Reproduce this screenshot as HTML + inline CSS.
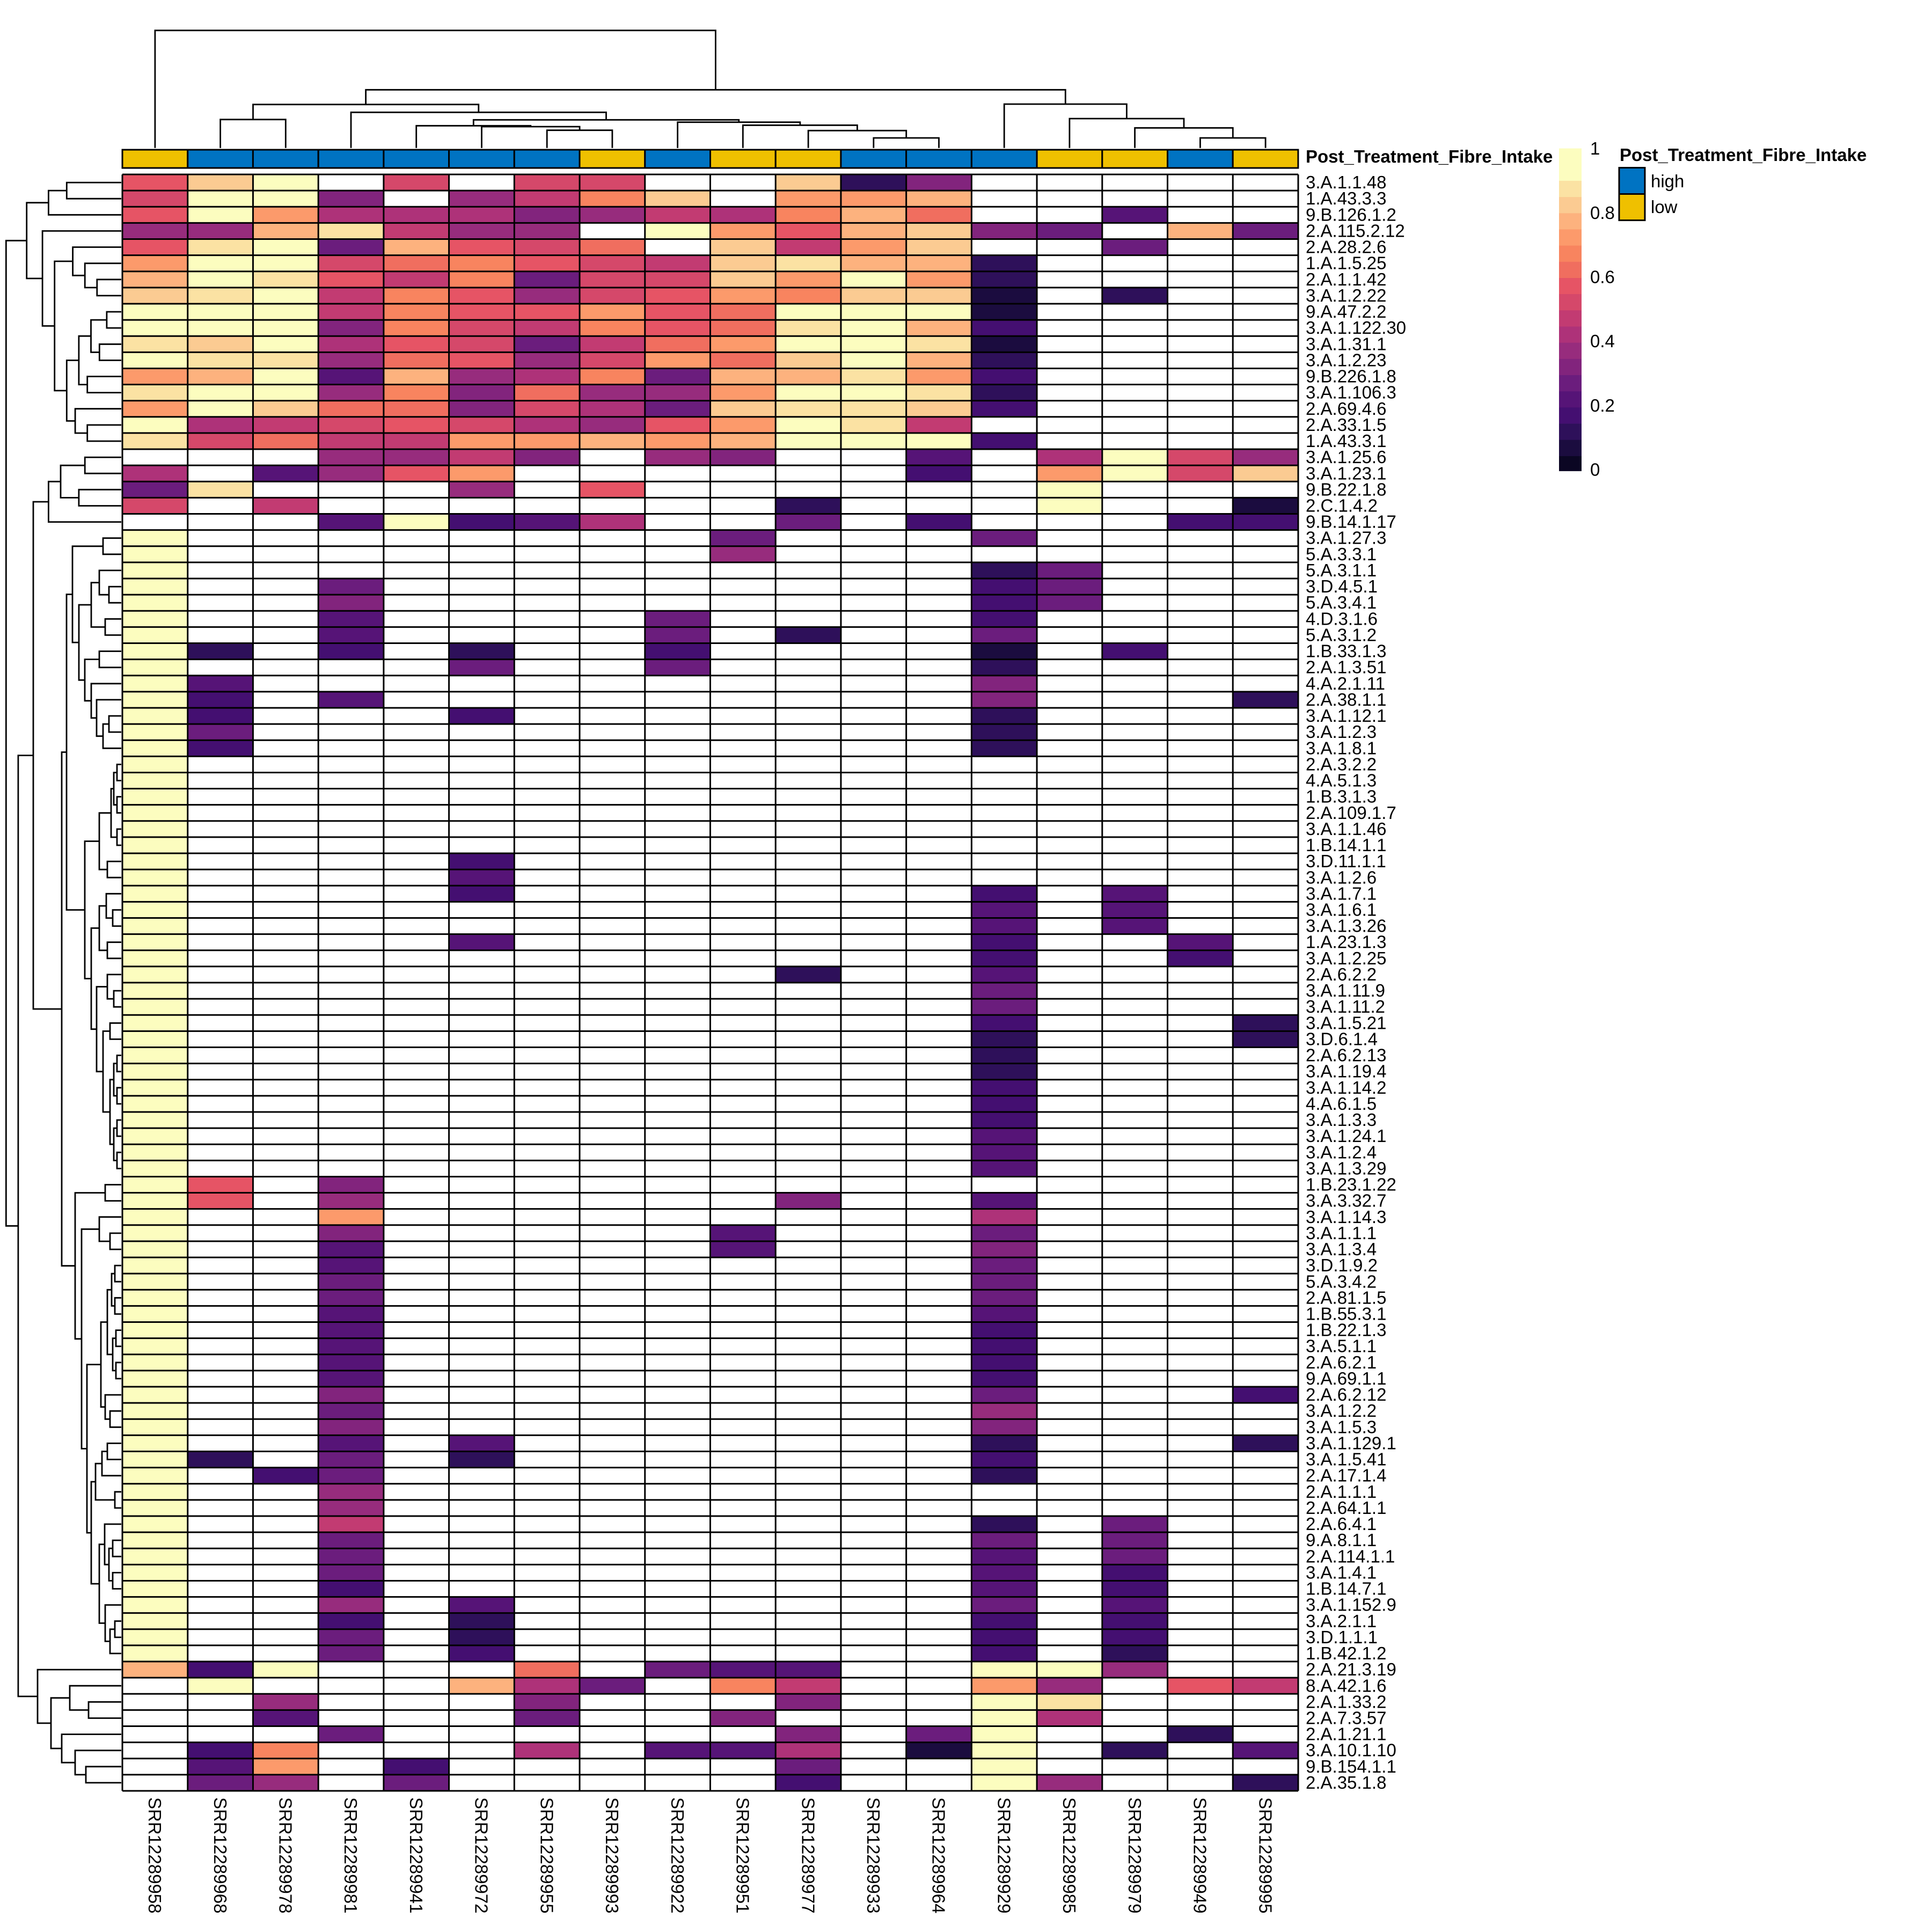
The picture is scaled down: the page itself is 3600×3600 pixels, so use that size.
<!DOCTYPE html>
<html>
<head>
<meta charset="utf-8">
<style>
html,body{margin:0;padding:0;background:#fff;}
svg{display:block;}
text{font-family:"Liberation Sans",Arial,sans-serif;fill:#000;}
.k0{fill:#0B0623}.k1{fill:#1B0C3F}.k2{fill:#2E105A}.k3{fill:#440F71}.k4{fill:#561477}.k5{fill:#6B1D7D}.k6{fill:#82247D}.k7{fill:#972C7D}.k8{fill:#AE3279}.k9{fill:#C23B72}.k10{fill:#D5486A}.k11{fill:#E65465}.k12{fill:#F06E5F}.k13{fill:#F8845F}.k14{fill:#FC9A6B}.k15{fill:#FDB27E}.k16{fill:#FBCB92}.k17{fill:#FBE2A3}.k19{fill:#FCFDBF}
</style>
</head>
<body>
<svg xmlns="http://www.w3.org/2000/svg" width="3600" height="3600" viewBox="0 0 3600 3600">
<rect x="0" y="0" width="3600" height="3600" fill="#fff"/>

<!-- top dendrogram -->
<path fill="none" stroke="#000" stroke-width="2.8" d="M1019.2 275.7V242.7H1140.9V275.7 M897.5 275.7V236H1080.1V242.7 M775.7 275.7V234.3H988.8V236 M1627.8 275.7V257H1749.5V275.7 M1506.1 275.7V243.3H1688.7V257 M1384.3 275.7V233.3H1597.4V243.3 M1262.6 275.7V227.7H1490.9V233.3 M882.3 234.3V223.3H1376.8V227.7 M654 275.7V209.3H1129.5V223.3 M410.6 275.7V222.7H532.3V275.7 M471.5 222.7V194.7H891.8V209.3 M2236.4 275.7V257H2358.1V275.7 M2114.6 275.7V238.3H2297.3V257 M1992.9 275.7V221H2206V238.3 M1871.2 275.7V194H2099.4V221 M681.6 194.7V167.3H1985.3V194 M288.9 275.7V56.7H1333.4V167.3"/>

<!-- annotation bar -->
<g stroke="#000" stroke-width="3">
<rect x="228" y="279" width="121.72" height="34" fill="#EFC000"/>
<rect x="349.7" y="279" width="121.72" height="34" fill="#0073C2"/>
<rect x="471.4" y="279" width="121.72" height="34" fill="#0073C2"/>
<rect x="593.2" y="279" width="121.72" height="34" fill="#0073C2"/>
<rect x="714.9" y="279" width="121.72" height="34" fill="#0073C2"/>
<rect x="836.6" y="279" width="121.72" height="34" fill="#0073C2"/>
<rect x="958.3" y="279" width="121.72" height="34" fill="#0073C2"/>
<rect x="1080" y="279" width="121.72" height="34" fill="#EFC000"/>
<rect x="1201.8" y="279" width="121.72" height="34" fill="#0073C2"/>
<rect x="1323.5" y="279" width="121.72" height="34" fill="#EFC000"/>
<rect x="1445.2" y="279" width="121.72" height="34" fill="#EFC000"/>
<rect x="1566.9" y="279" width="121.72" height="34" fill="#0073C2"/>
<rect x="1688.6" y="279" width="121.72" height="34" fill="#0073C2"/>
<rect x="1810.4" y="279" width="121.72" height="34" fill="#0073C2"/>
<rect x="1932.1" y="279" width="121.72" height="34" fill="#EFC000"/>
<rect x="2053.8" y="279" width="121.72" height="34" fill="#EFC000"/>
<rect x="2175.5" y="279" width="121.72" height="34" fill="#0073C2"/>
<rect x="2297.2" y="279" width="121.72" height="34" fill="#EFC000"/>
</g>
<text x="2433" y="303" font-size="33" font-weight="bold">Post_Treatment_Fibre_Intake</text>

<!-- heatmap cells -->
<g>
<g transform="translate(0,325)"><rect x="228" width="121.8" height="30.2" class="k11"/><rect x="349.7" width="121.8" height="30.2" class="k16"/><rect x="471.4" width="121.8" height="30.2" class="k19"/><rect x="714.9" width="121.8" height="30.2" class="k10"/><rect x="958.3" width="121.8" height="30.2" class="k10"/><rect x="1080" width="121.8" height="30.2" class="k10"/><rect x="1445.2" width="121.8" height="30.2" class="k16"/><rect x="1566.9" width="121.8" height="30.2" class="k2"/><rect x="1688.6" width="121.8" height="30.2" class="k6"/></g>
<g transform="translate(0,355.12)"><rect x="228" width="121.8" height="30.2" class="k10"/><rect x="349.7" width="121.8" height="30.2" class="k19"/><rect x="471.4" width="121.8" height="30.2" class="k19"/><rect x="593.2" width="121.8" height="30.2" class="k6"/><rect x="836.6" width="121.8" height="30.2" class="k7"/><rect x="958.3" width="121.8" height="30.2" class="k9"/><rect x="1080" width="121.8" height="30.2" class="k13"/><rect x="1201.8" width="121.8" height="30.2" class="k16"/><rect x="1445.2" width="121.8" height="30.2" class="k14"/><rect x="1566.9" width="121.8" height="30.2" class="k14"/><rect x="1688.6" width="121.8" height="30.2" class="k15"/></g>
<g transform="translate(0,385.24)"><rect x="228" width="121.8" height="30.2" class="k11"/><rect x="349.7" width="121.8" height="30.2" class="k19"/><rect x="471.4" width="121.8" height="30.2" class="k14"/><rect x="593.2" width="121.8" height="30.2" class="k8"/><rect x="714.9" width="121.8" height="30.2" class="k8"/><rect x="836.6" width="121.8" height="30.2" class="k8"/><rect x="958.3" width="121.8" height="30.2" class="k6"/><rect x="1080" width="121.8" height="30.2" class="k7"/><rect x="1201.8" width="121.8" height="30.2" class="k9"/><rect x="1323.5" width="121.8" height="30.2" class="k8"/><rect x="1445.2" width="121.8" height="30.2" class="k13"/><rect x="1566.9" width="121.8" height="30.2" class="k15"/><rect x="1688.6" width="121.8" height="30.2" class="k12"/><rect x="2053.8" width="121.8" height="30.2" class="k4"/></g>
<g transform="translate(0,415.36)"><rect x="228" width="121.8" height="30.2" class="k7"/><rect x="349.7" width="121.8" height="30.2" class="k7"/><rect x="471.4" width="121.8" height="30.2" class="k15"/><rect x="593.2" width="121.8" height="30.2" class="k17"/><rect x="714.9" width="121.8" height="30.2" class="k9"/><rect x="836.6" width="121.8" height="30.2" class="k7"/><rect x="958.3" width="121.8" height="30.2" class="k7"/><rect x="1201.8" width="121.8" height="30.2" class="k19"/><rect x="1323.5" width="121.8" height="30.2" class="k14"/><rect x="1445.2" width="121.8" height="30.2" class="k11"/><rect x="1566.9" width="121.8" height="30.2" class="k15"/><rect x="1688.6" width="121.8" height="30.2" class="k16"/><rect x="1810.4" width="121.8" height="30.2" class="k6"/><rect x="1932.1" width="121.8" height="30.2" class="k5"/><rect x="2175.5" width="121.8" height="30.2" class="k15"/><rect x="2297.2" width="121.8" height="30.2" class="k5"/></g>
<g transform="translate(0,445.48)"><rect x="228" width="121.8" height="30.2" class="k11"/><rect x="349.7" width="121.8" height="30.2" class="k17"/><rect x="471.4" width="121.8" height="30.2" class="k19"/><rect x="593.2" width="121.8" height="30.2" class="k5"/><rect x="714.9" width="121.8" height="30.2" class="k15"/><rect x="836.6" width="121.8" height="30.2" class="k11"/><rect x="958.3" width="121.8" height="30.2" class="k10"/><rect x="1080" width="121.8" height="30.2" class="k12"/><rect x="1323.5" width="121.8" height="30.2" class="k16"/><rect x="1445.2" width="121.8" height="30.2" class="k9"/><rect x="1566.9" width="121.8" height="30.2" class="k14"/><rect x="1688.6" width="121.8" height="30.2" class="k16"/><rect x="2053.8" width="121.8" height="30.2" class="k5"/></g>
<g transform="translate(0,475.6)"><rect x="228" width="121.8" height="30.2" class="k14"/><rect x="349.7" width="121.8" height="30.2" class="k19"/><rect x="471.4" width="121.8" height="30.2" class="k19"/><rect x="593.2" width="121.8" height="30.2" class="k10"/><rect x="714.9" width="121.8" height="30.2" class="k12"/><rect x="836.6" width="121.8" height="30.2" class="k13"/><rect x="958.3" width="121.8" height="30.2" class="k11"/><rect x="1080" width="121.8" height="30.2" class="k10"/><rect x="1201.8" width="121.8" height="30.2" class="k9"/><rect x="1323.5" width="121.8" height="30.2" class="k16"/><rect x="1445.2" width="121.8" height="30.2" class="k17"/><rect x="1566.9" width="121.8" height="30.2" class="k15"/><rect x="1688.6" width="121.8" height="30.2" class="k15"/><rect x="1810.4" width="121.8" height="30.2" class="k2"/></g>
<g transform="translate(0,505.72)"><rect x="228" width="121.8" height="30.2" class="k15"/><rect x="349.7" width="121.8" height="30.2" class="k19"/><rect x="471.4" width="121.8" height="30.2" class="k17"/><rect x="593.2" width="121.8" height="30.2" class="k11"/><rect x="714.9" width="121.8" height="30.2" class="k9"/><rect x="836.6" width="121.8" height="30.2" class="k13"/><rect x="958.3" width="121.8" height="30.2" class="k5"/><rect x="1080" width="121.8" height="30.2" class="k10"/><rect x="1201.8" width="121.8" height="30.2" class="k10"/><rect x="1323.5" width="121.8" height="30.2" class="k16"/><rect x="1445.2" width="121.8" height="30.2" class="k14"/><rect x="1566.9" width="121.8" height="30.2" class="k19"/><rect x="1688.6" width="121.8" height="30.2" class="k14"/><rect x="1810.4" width="121.8" height="30.2" class="k2"/></g>
<g transform="translate(0,535.84)"><rect x="228" width="121.8" height="30.2" class="k16"/><rect x="349.7" width="121.8" height="30.2" class="k17"/><rect x="471.4" width="121.8" height="30.2" class="k19"/><rect x="593.2" width="121.8" height="30.2" class="k9"/><rect x="714.9" width="121.8" height="30.2" class="k13"/><rect x="836.6" width="121.8" height="30.2" class="k11"/><rect x="958.3" width="121.8" height="30.2" class="k7"/><rect x="1080" width="121.8" height="30.2" class="k10"/><rect x="1201.8" width="121.8" height="30.2" class="k11"/><rect x="1323.5" width="121.8" height="30.2" class="k14"/><rect x="1445.2" width="121.8" height="30.2" class="k13"/><rect x="1566.9" width="121.8" height="30.2" class="k16"/><rect x="1688.6" width="121.8" height="30.2" class="k16"/><rect x="1810.4" width="121.8" height="30.2" class="k1"/><rect x="2053.8" width="121.8" height="30.2" class="k2"/></g>
<g transform="translate(0,565.96)"><rect x="228" width="121.8" height="30.2" class="k19"/><rect x="349.7" width="121.8" height="30.2" class="k19"/><rect x="471.4" width="121.8" height="30.2" class="k19"/><rect x="593.2" width="121.8" height="30.2" class="k9"/><rect x="714.9" width="121.8" height="30.2" class="k13"/><rect x="836.6" width="121.8" height="30.2" class="k11"/><rect x="958.3" width="121.8" height="30.2" class="k11"/><rect x="1080" width="121.8" height="30.2" class="k14"/><rect x="1201.8" width="121.8" height="30.2" class="k11"/><rect x="1323.5" width="121.8" height="30.2" class="k12"/><rect x="1445.2" width="121.8" height="30.2" class="k19"/><rect x="1566.9" width="121.8" height="30.2" class="k19"/><rect x="1688.6" width="121.8" height="30.2" class="k19"/><rect x="1810.4" width="121.8" height="30.2" class="k1"/></g>
<g transform="translate(0,596.08)"><rect x="228" width="121.8" height="30.2" class="k19"/><rect x="349.7" width="121.8" height="30.2" class="k19"/><rect x="471.4" width="121.8" height="30.2" class="k19"/><rect x="593.2" width="121.8" height="30.2" class="k6"/><rect x="714.9" width="121.8" height="30.2" class="k13"/><rect x="836.6" width="121.8" height="30.2" class="k10"/><rect x="958.3" width="121.8" height="30.2" class="k9"/><rect x="1080" width="121.8" height="30.2" class="k13"/><rect x="1201.8" width="121.8" height="30.2" class="k11"/><rect x="1323.5" width="121.8" height="30.2" class="k12"/><rect x="1445.2" width="121.8" height="30.2" class="k17"/><rect x="1566.9" width="121.8" height="30.2" class="k19"/><rect x="1688.6" width="121.8" height="30.2" class="k15"/><rect x="1810.4" width="121.8" height="30.2" class="k3"/></g>
<g transform="translate(0,626.2)"><rect x="228" width="121.8" height="30.2" class="k17"/><rect x="349.7" width="121.8" height="30.2" class="k16"/><rect x="471.4" width="121.8" height="30.2" class="k19"/><rect x="593.2" width="121.8" height="30.2" class="k8"/><rect x="714.9" width="121.8" height="30.2" class="k11"/><rect x="836.6" width="121.8" height="30.2" class="k10"/><rect x="958.3" width="121.8" height="30.2" class="k5"/><rect x="1080" width="121.8" height="30.2" class="k9"/><rect x="1201.8" width="121.8" height="30.2" class="k12"/><rect x="1323.5" width="121.8" height="30.2" class="k14"/><rect x="1445.2" width="121.8" height="30.2" class="k19"/><rect x="1566.9" width="121.8" height="30.2" class="k19"/><rect x="1688.6" width="121.8" height="30.2" class="k17"/><rect x="1810.4" width="121.8" height="30.2" class="k1"/></g>
<g transform="translate(0,656.32)"><rect x="228" width="121.8" height="30.2" class="k19"/><rect x="349.7" width="121.8" height="30.2" class="k17"/><rect x="471.4" width="121.8" height="30.2" class="k17"/><rect x="593.2" width="121.8" height="30.2" class="k7"/><rect x="714.9" width="121.8" height="30.2" class="k12"/><rect x="836.6" width="121.8" height="30.2" class="k11"/><rect x="958.3" width="121.8" height="30.2" class="k7"/><rect x="1080" width="121.8" height="30.2" class="k10"/><rect x="1201.8" width="121.8" height="30.2" class="k14"/><rect x="1323.5" width="121.8" height="30.2" class="k12"/><rect x="1445.2" width="121.8" height="30.2" class="k16"/><rect x="1566.9" width="121.8" height="30.2" class="k19"/><rect x="1688.6" width="121.8" height="30.2" class="k15"/><rect x="1810.4" width="121.8" height="30.2" class="k2"/></g>
<g transform="translate(0,686.44)"><rect x="228" width="121.8" height="30.2" class="k14"/><rect x="349.7" width="121.8" height="30.2" class="k15"/><rect x="471.4" width="121.8" height="30.2" class="k19"/><rect x="593.2" width="121.8" height="30.2" class="k4"/><rect x="714.9" width="121.8" height="30.2" class="k15"/><rect x="836.6" width="121.8" height="30.2" class="k7"/><rect x="958.3" width="121.8" height="30.2" class="k8"/><rect x="1080" width="121.8" height="30.2" class="k13"/><rect x="1201.8" width="121.8" height="30.2" class="k5"/><rect x="1323.5" width="121.8" height="30.2" class="k15"/><rect x="1445.2" width="121.8" height="30.2" class="k15"/><rect x="1566.9" width="121.8" height="30.2" class="k17"/><rect x="1688.6" width="121.8" height="30.2" class="k14"/><rect x="1810.4" width="121.8" height="30.2" class="k3"/></g>
<g transform="translate(0,716.56)"><rect x="228" width="121.8" height="30.2" class="k17"/><rect x="349.7" width="121.8" height="30.2" class="k19"/><rect x="471.4" width="121.8" height="30.2" class="k19"/><rect x="593.2" width="121.8" height="30.2" class="k7"/><rect x="714.9" width="121.8" height="30.2" class="k13"/><rect x="836.6" width="121.8" height="30.2" class="k6"/><rect x="958.3" width="121.8" height="30.2" class="k12"/><rect x="1080" width="121.8" height="30.2" class="k7"/><rect x="1201.8" width="121.8" height="30.2" class="k7"/><rect x="1323.5" width="121.8" height="30.2" class="k14"/><rect x="1445.2" width="121.8" height="30.2" class="k19"/><rect x="1566.9" width="121.8" height="30.2" class="k19"/><rect x="1688.6" width="121.8" height="30.2" class="k17"/><rect x="1810.4" width="121.8" height="30.2" class="k2"/></g>
<g transform="translate(0,746.68)"><rect x="228" width="121.8" height="30.2" class="k14"/><rect x="349.7" width="121.8" height="30.2" class="k19"/><rect x="471.4" width="121.8" height="30.2" class="k16"/><rect x="593.2" width="121.8" height="30.2" class="k12"/><rect x="714.9" width="121.8" height="30.2" class="k12"/><rect x="836.6" width="121.8" height="30.2" class="k6"/><rect x="958.3" width="121.8" height="30.2" class="k10"/><rect x="1080" width="121.8" height="30.2" class="k8"/><rect x="1201.8" width="121.8" height="30.2" class="k5"/><rect x="1323.5" width="121.8" height="30.2" class="k16"/><rect x="1445.2" width="121.8" height="30.2" class="k17"/><rect x="1566.9" width="121.8" height="30.2" class="k17"/><rect x="1688.6" width="121.8" height="30.2" class="k16"/><rect x="1810.4" width="121.8" height="30.2" class="k3"/></g>
<g transform="translate(0,776.8)"><rect x="228" width="121.8" height="30.2" class="k19"/><rect x="349.7" width="121.8" height="30.2" class="k8"/><rect x="471.4" width="121.8" height="30.2" class="k9"/><rect x="593.2" width="121.8" height="30.2" class="k10"/><rect x="714.9" width="121.8" height="30.2" class="k11"/><rect x="836.6" width="121.8" height="30.2" class="k10"/><rect x="958.3" width="121.8" height="30.2" class="k8"/><rect x="1080" width="121.8" height="30.2" class="k7"/><rect x="1201.8" width="121.8" height="30.2" class="k11"/><rect x="1323.5" width="121.8" height="30.2" class="k14"/><rect x="1445.2" width="121.8" height="30.2" class="k19"/><rect x="1566.9" width="121.8" height="30.2" class="k17"/><rect x="1688.6" width="121.8" height="30.2" class="k9"/></g>
<g transform="translate(0,806.92)"><rect x="228" width="121.8" height="30.2" class="k17"/><rect x="349.7" width="121.8" height="30.2" class="k10"/><rect x="471.4" width="121.8" height="30.2" class="k12"/><rect x="593.2" width="121.8" height="30.2" class="k9"/><rect x="714.9" width="121.8" height="30.2" class="k9"/><rect x="836.6" width="121.8" height="30.2" class="k14"/><rect x="958.3" width="121.8" height="30.2" class="k14"/><rect x="1080" width="121.8" height="30.2" class="k15"/><rect x="1201.8" width="121.8" height="30.2" class="k14"/><rect x="1323.5" width="121.8" height="30.2" class="k15"/><rect x="1445.2" width="121.8" height="30.2" class="k19"/><rect x="1566.9" width="121.8" height="30.2" class="k19"/><rect x="1688.6" width="121.8" height="30.2" class="k19"/><rect x="1810.4" width="121.8" height="30.2" class="k3"/></g>
<g transform="translate(0,837.04)"><rect x="593.2" width="121.8" height="30.2" class="k7"/><rect x="714.9" width="121.8" height="30.2" class="k7"/><rect x="836.6" width="121.8" height="30.2" class="k9"/><rect x="958.3" width="121.8" height="30.2" class="k6"/><rect x="1201.8" width="121.8" height="30.2" class="k7"/><rect x="1323.5" width="121.8" height="30.2" class="k6"/><rect x="1688.6" width="121.8" height="30.2" class="k4"/><rect x="1932.1" width="121.8" height="30.2" class="k8"/><rect x="2053.8" width="121.8" height="30.2" class="k19"/><rect x="2175.5" width="121.8" height="30.2" class="k10"/><rect x="2297.2" width="121.8" height="30.2" class="k7"/></g>
<g transform="translate(0,867.16)"><rect x="228" width="121.8" height="30.2" class="k8"/><rect x="471.4" width="121.8" height="30.2" class="k4"/><rect x="593.2" width="121.8" height="30.2" class="k7"/><rect x="714.9" width="121.8" height="30.2" class="k11"/><rect x="836.6" width="121.8" height="30.2" class="k14"/><rect x="1688.6" width="121.8" height="30.2" class="k3"/><rect x="1932.1" width="121.8" height="30.2" class="k14"/><rect x="2053.8" width="121.8" height="30.2" class="k19"/><rect x="2175.5" width="121.8" height="30.2" class="k10"/><rect x="2297.2" width="121.8" height="30.2" class="k16"/></g>
<g transform="translate(0,897.28)"><rect x="228" width="121.8" height="30.2" class="k5"/><rect x="349.7" width="121.8" height="30.2" class="k17"/><rect x="836.6" width="121.8" height="30.2" class="k7"/><rect x="1080" width="121.8" height="30.2" class="k11"/><rect x="1932.1" width="121.8" height="30.2" class="k19"/></g>
<g transform="translate(0,927.4)"><rect x="228" width="121.8" height="30.2" class="k10"/><rect x="471.4" width="121.8" height="30.2" class="k9"/><rect x="1445.2" width="121.8" height="30.2" class="k2"/><rect x="1932.1" width="121.8" height="30.2" class="k19"/><rect x="2297.2" width="121.8" height="30.2" class="k1"/></g>
<g transform="translate(0,957.52)"><rect x="593.2" width="121.8" height="30.2" class="k4"/><rect x="714.9" width="121.8" height="30.2" class="k19"/><rect x="836.6" width="121.8" height="30.2" class="k3"/><rect x="958.3" width="121.8" height="30.2" class="k4"/><rect x="1080" width="121.8" height="30.2" class="k8"/><rect x="1445.2" width="121.8" height="30.2" class="k5"/><rect x="1688.6" width="121.8" height="30.2" class="k3"/><rect x="2175.5" width="121.8" height="30.2" class="k3"/><rect x="2297.2" width="121.8" height="30.2" class="k3"/></g>

<rect x="228" y="987.64" width="121.8" height="2108.4" class="k19"/>

<g transform="translate(0,987.64)"><rect x="1323.5" width="121.8" height="30.2" class="k5"/><rect x="1810.4" width="121.8" height="30.2" class="k5"/></g>
<g transform="translate(0,1017.76)"><rect x="1323.5" width="121.8" height="30.2" class="k7"/></g>
<g transform="translate(0,1047.88)"><rect x="1810.4" width="121.8" height="30.2" class="k2"/><rect x="1932.1" width="121.8" height="30.2" class="k5"/></g>
<g transform="translate(0,1078)"><rect x="593.2" width="121.8" height="30.2" class="k5"/><rect x="1810.4" width="121.8" height="30.2" class="k3"/><rect x="1932.1" width="121.8" height="30.2" class="k5"/></g>
<g transform="translate(0,1108.12)"><rect x="593.2" width="121.8" height="30.2" class="k6"/><rect x="1810.4" width="121.8" height="30.2" class="k3"/><rect x="1932.1" width="121.8" height="30.2" class="k5"/></g>
<g transform="translate(0,1138.24)"><rect x="593.2" width="121.8" height="30.2" class="k4"/><rect x="1201.8" width="121.8" height="30.2" class="k5"/><rect x="1810.4" width="121.8" height="30.2" class="k3"/></g>
<g transform="translate(0,1168.36)"><rect x="593.2" width="121.8" height="30.2" class="k4"/><rect x="1201.8" width="121.8" height="30.2" class="k5"/><rect x="1445.2" width="121.8" height="30.2" class="k2"/><rect x="1810.4" width="121.8" height="30.2" class="k5"/></g>
<g transform="translate(0,1198.48)"><rect x="349.7" width="121.8" height="30.2" class="k2"/><rect x="593.2" width="121.8" height="30.2" class="k3"/><rect x="836.6" width="121.8" height="30.2" class="k2"/><rect x="1201.8" width="121.8" height="30.2" class="k3"/><rect x="1810.4" width="121.8" height="30.2" class="k1"/><rect x="2053.8" width="121.8" height="30.2" class="k3"/></g>
<g transform="translate(0,1228.6)"><rect x="836.6" width="121.8" height="30.2" class="k5"/><rect x="1201.8" width="121.8" height="30.2" class="k5"/><rect x="1810.4" width="121.8" height="30.2" class="k2"/></g>
<g transform="translate(0,1258.72)"><rect x="349.7" width="121.8" height="30.2" class="k4"/><rect x="1810.4" width="121.8" height="30.2" class="k6"/></g>
<g transform="translate(0,1288.84)"><rect x="349.7" width="121.8" height="30.2" class="k3"/><rect x="593.2" width="121.8" height="30.2" class="k4"/><rect x="1810.4" width="121.8" height="30.2" class="k6"/><rect x="2297.2" width="121.8" height="30.2" class="k2"/></g>
<g transform="translate(0,1318.96)"><rect x="349.7" width="121.8" height="30.2" class="k3"/><rect x="836.6" width="121.8" height="30.2" class="k3"/><rect x="1810.4" width="121.8" height="30.2" class="k2"/></g>
<g transform="translate(0,1349.08)"><rect x="349.7" width="121.8" height="30.2" class="k5"/><rect x="1810.4" width="121.8" height="30.2" class="k2"/></g>
<g transform="translate(0,1379.2)"><rect x="349.7" width="121.8" height="30.2" class="k3"/><rect x="1810.4" width="121.8" height="30.2" class="k2"/></g>
<g transform="translate(0,1590.04)"><rect x="836.6" width="121.8" height="30.2" class="k3"/></g>
<g transform="translate(0,1620.16)"><rect x="836.6" width="121.8" height="30.2" class="k4"/></g>
<g transform="translate(0,1650.28)"><rect x="836.6" width="121.8" height="30.2" class="k3"/><rect x="1810.4" width="121.8" height="30.2" class="k3"/><rect x="2053.8" width="121.8" height="30.2" class="k4"/></g>
<g transform="translate(0,1680.4)"><rect x="1810.4" width="121.8" height="30.2" class="k4"/><rect x="2053.8" width="121.8" height="30.2" class="k4"/></g>
<g transform="translate(0,1710.52)"><rect x="1810.4" width="121.8" height="30.2" class="k4"/><rect x="2053.8" width="121.8" height="30.2" class="k4"/></g>
<g transform="translate(0,1740.64)"><rect x="836.6" width="121.8" height="30.2" class="k4"/><rect x="1810.4" width="121.8" height="30.2" class="k3"/><rect x="2175.5" width="121.8" height="30.2" class="k4"/></g>
<g transform="translate(0,1770.76)"><rect x="1810.4" width="121.8" height="30.2" class="k3"/><rect x="2175.5" width="121.8" height="30.2" class="k3"/></g>
<g transform="translate(0,1800.88)"><rect x="1445.2" width="121.8" height="30.2" class="k2"/><rect x="1810.4" width="121.8" height="30.2" class="k4"/></g>
<g transform="translate(0,1831)"><rect x="1810.4" width="121.8" height="30.2" class="k5"/></g>
<g transform="translate(0,1861.12)"><rect x="1810.4" width="121.8" height="30.2" class="k5"/></g>
<g transform="translate(0,1891.24)"><rect x="1810.4" width="121.8" height="30.2" class="k3"/><rect x="2297.2" width="121.8" height="30.2" class="k2"/></g>
<g transform="translate(0,1921.36)"><rect x="1810.4" width="121.8" height="30.2" class="k2"/><rect x="2297.2" width="121.8" height="30.2" class="k2"/></g>
<rect x="1810.4" y="1951.48" width="121.8" height="30.2" class="k2"/>
<rect x="1810.4" y="1981.6" width="121.8" height="30.2" class="k2"/>
<rect x="1810.4" y="2011.72" width="121.8" height="30.2" class="k3"/>
<rect x="1810.4" y="2041.84" width="121.8" height="30.2" class="k3"/>
<rect x="1810.4" y="2071.96" width="121.8" height="30.2" class="k3"/>
<rect x="1810.4" y="2102.08" width="121.8" height="30.2" class="k4"/>
<rect x="1810.4" y="2132.2" width="121.8" height="30.2" class="k4"/>
<rect x="1810.4" y="2162.32" width="121.8" height="30.2" class="k4"/>
<g transform="translate(0,2192.44)"><rect x="349.7" width="121.8" height="30.2" class="k11"/><rect x="593.2" width="121.8" height="30.2" class="k6"/></g>
<g transform="translate(0,2222.56)"><rect x="349.7" width="121.8" height="30.2" class="k11"/><rect x="593.2" width="121.8" height="30.2" class="k7"/><rect x="1445.2" width="121.8" height="30.2" class="k6"/><rect x="1810.4" width="121.8" height="30.2" class="k4"/></g>
<g transform="translate(0,2252.68)"><rect x="593.2" width="121.8" height="30.2" class="k14"/><rect x="1810.4" width="121.8" height="30.2" class="k8"/></g>
<g transform="translate(0,2282.8)"><rect x="593.2" width="121.8" height="30.2" class="k6"/><rect x="1323.5" width="121.8" height="30.2" class="k4"/><rect x="1810.4" width="121.8" height="30.2" class="k5"/></g>
<g transform="translate(0,2312.92)"><rect x="593.2" width="121.8" height="30.2" class="k4"/><rect x="1323.5" width="121.8" height="30.2" class="k4"/><rect x="1810.4" width="121.8" height="30.2" class="k6"/></g>
<g transform="translate(0,2343.04)"><rect x="593.2" width="121.8" height="30.2" class="k4"/><rect x="1810.4" width="121.8" height="30.2" class="k5"/></g>
<g transform="translate(0,2373.16)"><rect x="593.2" width="121.8" height="30.2" class="k5"/><rect x="1810.4" width="121.8" height="30.2" class="k5"/></g>
<g transform="translate(0,2403.28)"><rect x="593.2" width="121.8" height="30.2" class="k5"/><rect x="1810.4" width="121.8" height="30.2" class="k5"/></g>
<g transform="translate(0,2433.4)"><rect x="593.2" width="121.8" height="30.2" class="k4"/><rect x="1810.4" width="121.8" height="30.2" class="k4"/></g>
<g transform="translate(0,2463.52)"><rect x="593.2" width="121.8" height="30.2" class="k4"/><rect x="1810.4" width="121.8" height="30.2" class="k3"/></g>
<g transform="translate(0,2493.64)"><rect x="593.2" width="121.8" height="30.2" class="k4"/><rect x="1810.4" width="121.8" height="30.2" class="k3"/></g>
<g transform="translate(0,2523.76)"><rect x="593.2" width="121.8" height="30.2" class="k4"/><rect x="1810.4" width="121.8" height="30.2" class="k3"/></g>
<g transform="translate(0,2553.88)"><rect x="593.2" width="121.8" height="30.2" class="k4"/><rect x="1810.4" width="121.8" height="30.2" class="k3"/></g>
<g transform="translate(0,2584)"><rect x="593.2" width="121.8" height="30.2" class="k6"/><rect x="1810.4" width="121.8" height="30.2" class="k5"/><rect x="2297.2" width="121.8" height="30.2" class="k3"/></g>
<g transform="translate(0,2614.12)"><rect x="593.2" width="121.8" height="30.2" class="k5"/><rect x="1810.4" width="121.8" height="30.2" class="k7"/></g>
<g transform="translate(0,2644.24)"><rect x="593.2" width="121.8" height="30.2" class="k6"/><rect x="1810.4" width="121.8" height="30.2" class="k6"/></g>
<g transform="translate(0,2674.36)"><rect x="593.2" width="121.8" height="30.2" class="k4"/><rect x="836.6" width="121.8" height="30.2" class="k4"/><rect x="1810.4" width="121.8" height="30.2" class="k2"/><rect x="2297.2" width="121.8" height="30.2" class="k2"/></g>
<g transform="translate(0,2704.48)"><rect x="349.7" width="121.8" height="30.2" class="k2"/><rect x="593.2" width="121.8" height="30.2" class="k5"/><rect x="836.6" width="121.8" height="30.2" class="k2"/><rect x="1810.4" width="121.8" height="30.2" class="k3"/></g>
<g transform="translate(0,2734.6)"><rect x="471.4" width="121.8" height="30.2" class="k3"/><rect x="593.2" width="121.8" height="30.2" class="k5"/><rect x="1810.4" width="121.8" height="30.2" class="k2"/></g>
<g transform="translate(0,2764.72)"><rect x="593.2" width="121.8" height="30.2" class="k7"/></g>
<g transform="translate(0,2794.84)"><rect x="593.2" width="121.8" height="30.2" class="k7"/></g>
<g transform="translate(0,2824.96)"><rect x="593.2" width="121.8" height="30.2" class="k9"/><rect x="1810.4" width="121.8" height="30.2" class="k2"/><rect x="2053.8" width="121.8" height="30.2" class="k5"/></g>
<g transform="translate(0,2855.08)"><rect x="593.2" width="121.8" height="30.2" class="k5"/><rect x="1810.4" width="121.8" height="30.2" class="k5"/><rect x="2053.8" width="121.8" height="30.2" class="k5"/></g>
<g transform="translate(0,2885.2)"><rect x="593.2" width="121.8" height="30.2" class="k5"/><rect x="1810.4" width="121.8" height="30.2" class="k4"/><rect x="2053.8" width="121.8" height="30.2" class="k5"/></g>
<g transform="translate(0,2915.32)"><rect x="593.2" width="121.8" height="30.2" class="k5"/><rect x="1810.4" width="121.8" height="30.2" class="k4"/><rect x="2053.8" width="121.8" height="30.2" class="k3"/></g>
<g transform="translate(0,2945.44)"><rect x="593.2" width="121.8" height="30.2" class="k3"/><rect x="1810.4" width="121.8" height="30.2" class="k4"/><rect x="2053.8" width="121.8" height="30.2" class="k3"/></g>
<g transform="translate(0,2975.56)"><rect x="593.2" width="121.8" height="30.2" class="k7"/><rect x="836.6" width="121.8" height="30.2" class="k4"/><rect x="1810.4" width="121.8" height="30.2" class="k5"/><rect x="2053.8" width="121.8" height="30.2" class="k4"/></g>
<g transform="translate(0,3005.68)"><rect x="593.2" width="121.8" height="30.2" class="k3"/><rect x="836.6" width="121.8" height="30.2" class="k2"/><rect x="1810.4" width="121.8" height="30.2" class="k3"/><rect x="2053.8" width="121.8" height="30.2" class="k3"/></g>
<g transform="translate(0,3035.8)"><rect x="593.2" width="121.8" height="30.2" class="k5"/><rect x="836.6" width="121.8" height="30.2" class="k2"/><rect x="1810.4" width="121.8" height="30.2" class="k3"/><rect x="2053.8" width="121.8" height="30.2" class="k3"/></g>
<g transform="translate(0,3065.92)"><rect x="593.2" width="121.8" height="30.2" class="k5"/><rect x="836.6" width="121.8" height="30.2" class="k3"/><rect x="1810.4" width="121.8" height="30.2" class="k3"/><rect x="2053.8" width="121.8" height="30.2" class="k2"/></g>
<g transform="translate(0,3096.04)"><rect x="228" width="121.8" height="30.2" class="k15"/><rect x="349.7" width="121.8" height="30.2" class="k3"/><rect x="471.4" width="121.8" height="30.2" class="k19"/><rect x="958.3" width="121.8" height="30.2" class="k12"/><rect x="1201.8" width="121.8" height="30.2" class="k5"/><rect x="1323.5" width="121.8" height="30.2" class="k4"/><rect x="1445.2" width="121.8" height="30.2" class="k4"/><rect x="1810.4" width="121.8" height="30.2" class="k19"/><rect x="1932.1" width="121.8" height="30.2" class="k19"/><rect x="2053.8" width="121.8" height="30.2" class="k7"/></g>
<g transform="translate(0,3126.16)"><rect x="349.7" width="121.8" height="30.2" class="k19"/><rect x="836.6" width="121.8" height="30.2" class="k15"/><rect x="958.3" width="121.8" height="30.2" class="k8"/><rect x="1080" width="121.8" height="30.2" class="k5"/><rect x="1323.5" width="121.8" height="30.2" class="k13"/><rect x="1445.2" width="121.8" height="30.2" class="k9"/><rect x="1810.4" width="121.8" height="30.2" class="k14"/><rect x="1932.1" width="121.8" height="30.2" class="k7"/><rect x="2175.5" width="121.8" height="30.2" class="k11"/><rect x="2297.2" width="121.8" height="30.2" class="k9"/></g>
<g transform="translate(0,3156.28)"><rect x="471.4" width="121.8" height="30.2" class="k7"/><rect x="958.3" width="121.8" height="30.2" class="k6"/><rect x="1445.2" width="121.8" height="30.2" class="k6"/><rect x="1810.4" width="121.8" height="30.2" class="k19"/><rect x="1932.1" width="121.8" height="30.2" class="k17"/></g>
<g transform="translate(0,3186.4)"><rect x="471.4" width="121.8" height="30.2" class="k4"/><rect x="958.3" width="121.8" height="30.2" class="k5"/><rect x="1323.5" width="121.8" height="30.2" class="k6"/><rect x="1810.4" width="121.8" height="30.2" class="k19"/><rect x="1932.1" width="121.8" height="30.2" class="k8"/></g>
<g transform="translate(0,3216.52)"><rect x="593.2" width="121.8" height="30.2" class="k5"/><rect x="1445.2" width="121.8" height="30.2" class="k6"/><rect x="1688.6" width="121.8" height="30.2" class="k5"/><rect x="1810.4" width="121.8" height="30.2" class="k19"/><rect x="2175.5" width="121.8" height="30.2" class="k2"/></g>
<g transform="translate(0,3246.64)"><rect x="349.7" width="121.8" height="30.2" class="k3"/><rect x="471.4" width="121.8" height="30.2" class="k13"/><rect x="958.3" width="121.8" height="30.2" class="k8"/><rect x="1201.8" width="121.8" height="30.2" class="k4"/><rect x="1323.5" width="121.8" height="30.2" class="k4"/><rect x="1445.2" width="121.8" height="30.2" class="k8"/><rect x="1688.6" width="121.8" height="30.2" class="k1"/><rect x="1810.4" width="121.8" height="30.2" class="k19"/><rect x="2053.8" width="121.8" height="30.2" class="k2"/><rect x="2297.2" width="121.8" height="30.2" class="k4"/></g>
<g transform="translate(0,3276.76)"><rect x="349.7" width="121.8" height="30.2" class="k4"/><rect x="471.4" width="121.8" height="30.2" class="k14"/><rect x="714.9" width="121.8" height="30.2" class="k3"/><rect x="1445.2" width="121.8" height="30.2" class="k5"/><rect x="1810.4" width="121.8" height="30.2" class="k19"/></g>
<g transform="translate(0,3306.88)"><rect x="349.7" width="121.8" height="30.2" class="k5"/><rect x="471.4" width="121.8" height="30.2" class="k7"/><rect x="714.9" width="121.8" height="30.2" class="k5"/><rect x="1445.2" width="121.8" height="30.2" class="k3"/><rect x="1810.4" width="121.8" height="30.2" class="k19"/><rect x="1932.1" width="121.8" height="30.2" class="k7"/><rect x="2297.2" width="121.8" height="30.2" class="k2"/></g>
</g>

<!-- grid: 101 horizontal + 19 vertical lines -->
<path fill="none" stroke="#000" stroke-width="3" d="M228 325h2191
m-2191 30.12h2191m-2191 30.12h2191m-2191 30.12h2191m-2191 30.12h2191m-2191 30.12h2191m-2191 30.12h2191m-2191 30.12h2191m-2191 30.12h2191m-2191 30.12h2191m-2191 30.12h2191
m-2191 30.12h2191m-2191 30.12h2191m-2191 30.12h2191m-2191 30.12h2191m-2191 30.12h2191m-2191 30.12h2191m-2191 30.12h2191m-2191 30.12h2191m-2191 30.12h2191m-2191 30.12h2191
m-2191 30.12h2191m-2191 30.12h2191m-2191 30.12h2191m-2191 30.12h2191m-2191 30.12h2191m-2191 30.12h2191m-2191 30.12h2191m-2191 30.12h2191m-2191 30.12h2191m-2191 30.12h2191
m-2191 30.12h2191m-2191 30.12h2191m-2191 30.12h2191m-2191 30.12h2191m-2191 30.12h2191m-2191 30.12h2191m-2191 30.12h2191m-2191 30.12h2191m-2191 30.12h2191m-2191 30.12h2191
m-2191 30.12h2191m-2191 30.12h2191m-2191 30.12h2191m-2191 30.12h2191m-2191 30.12h2191m-2191 30.12h2191m-2191 30.12h2191m-2191 30.12h2191m-2191 30.12h2191m-2191 30.12h2191
m-2191 30.12h2191m-2191 30.12h2191m-2191 30.12h2191m-2191 30.12h2191m-2191 30.12h2191m-2191 30.12h2191m-2191 30.12h2191m-2191 30.12h2191m-2191 30.12h2191m-2191 30.12h2191
m-2191 30.12h2191m-2191 30.12h2191m-2191 30.12h2191m-2191 30.12h2191m-2191 30.12h2191m-2191 30.12h2191m-2191 30.12h2191m-2191 30.12h2191m-2191 30.12h2191m-2191 30.12h2191
m-2191 30.12h2191m-2191 30.12h2191m-2191 30.12h2191m-2191 30.12h2191m-2191 30.12h2191m-2191 30.12h2191m-2191 30.12h2191m-2191 30.12h2191m-2191 30.12h2191m-2191 30.12h2191
m-2191 30.12h2191m-2191 30.12h2191m-2191 30.12h2191m-2191 30.12h2191m-2191 30.12h2191m-2191 30.12h2191m-2191 30.12h2191m-2191 30.12h2191m-2191 30.12h2191m-2191 30.12h2191
m-2191 30.12h2191m-2191 30.12h2191m-2191 30.12h2191m-2191 30.12h2191m-2191 30.12h2191m-2191 30.12h2191m-2191 30.12h2191m-2191 30.12h2191m-2191 30.12h2191m-2191 30.12h2191
M228 325v3012 M349.72 325v3012 M471.44 325v3012 M593.16 325v3012 M714.88 325v3012 M836.6 325v3012 M958.32 325v3012 M1080.04 325v3012 M1201.76 325v3012 M1323.48 325v3012 M1445.2 325v3012 M1566.92 325v3012 M1688.64 325v3012 M1810.36 325v3012 M1932.08 325v3012 M2053.8 325v3012 M2175.52 325v3012 M2297.24 325v3012 M2419 325v3012"/>

<!-- left dendrogram -->
<path fill="none" stroke="#000" stroke-width="2.8" d="M226 340.1H124.3V370.2H226 M124.3 355.1H90.4V400.3H226 M226 520.8H180.8V550.9H226 M226 490.7H158.2V535.9H180.8 M226 460.5H135.6V513.3H158.2 M226 581H198.9V611.1H226 M226 641.3H185.3V671.4H226 M198.9 596.1H169.5V656.4H185.3 M226 701.5H162.7V731.6H226 M169.5 626.2H146.9V716.6H162.7 M226 791.9H162.7V822H226 M226 761.7H140.1V807H162.7 M146.9 671.4H124.3V784.4H140.1 M135.6 486.9H101.7V727.9H124.3 M226 430.4H79.1V607.4H101.7 M90.4 377.7H49.7V518.9H79.1 M226 852.1H158.2V882.2H226 M226 912.3H146.9V942.5H226 M158.2 867.2H113V927.4H146.9 M113 897.3H90.4V972.6H226 M226 1002.7H192V1032.8H226 M226 1093.1H203V1123.2H226 M226 1062.9H185V1108.2H203 M226 1153.3H196V1183.4H226 M185 1085.6H170V1168.4H196 M226 1213.5H185V1243.7H226 M226 1334H203V1364.1H226 M203 1349.1H192V1394.3H226 M226 1303.9H180V1371.7H192 M226 1273.8H170V1337.8H180 M185 1228.6H158V1305.8H170 M170 1127H147V1267.2H158 M192 1017.8H135V1197.1H147 M226 1424.4H218V1454.5H226 M226 1484.6H218V1514.7H226 M226 1544.9H218V1575H226 M218 1439.5H212V1499.7H218 M212 1469.6H207V1560H218 M226 1605.1H200V1635.2H226 M207 1514.8H185V1620.2H200 M226 1695.5H210V1725.6H226 M226 1665.3H198V1710.6H210 M226 1755.7H200V1785.8H226 M198 1688H185V1770.8H200 M226 1846.1H212V1876.2H226 M226 1815.9H200V1861.2H212 M226 1906.3H205V1936.4H226 M226 1966.5H218V1996.7H226 M226 2026.8H218V2056.9H226 M226 2087H218V2117.1H226 M226 2147.3H218V2177.4H226 M218 1981.6H212V2041.9H218 M218 2102.1H212V2162.4H218 M212 2011.7H205V2132.2H212 M205 1921.4H192V2072H205 M200 1838.6H180V1996.7H192 M185 1729.4H170V1917.7H180 M185 1567.5H158V1823.5H170 M135 1107.5H124V1695.5H158 M226 2207.5H196V2237.6H226 M226 2297.9H205V2328H226 M226 2267.7H185V2313H205 M226 2358.1H214V2388.2H226 M226 2418.3H214V2448.5H226 M226 2478.6H216V2508.7H226 M226 2538.8H216V2568.9H226 M214 2373.2H208V2433.4H214 M216 2493.7H210V2553.9H216 M208 2403.3H200V2523.8H210 M226 2629.2H205V2659.3H226 M226 2599.1H196V2644.3H205 M200 2463.5H188V2621.7H196 M226 2689.4H200V2719.5H226 M200 2704.5H190V2749.7H226 M226 2779.8H214V2809.9H226 M190 2727.1H178V2794.9H214 M226 2870.1H210V2900.3H226 M226 2930.4H210V2960.5H226 M210 2885.2H203V2945.5H210 M226 2840H195V2915.3H203 M226 3020.7H214V3050.9H226 M214 3035.8H205V3081H226 M226 2990.6H196V3058.4H205 M195 2877.7H185V3024.5H196 M178 2761H170V2951.1H185 M188 2542.6H162V2856.1H170 M185 2290.3H152V2699.4H162 M196 2222.6H140V2494.8H152 M124 1401.5H115V2358.7H140 M226 3171.3H165V3201.5H226 M226 3141.2H130V3186.4H165 M226 3291.8H160V3321.9H226 M226 3261.7H140V3306.9H160 M226 3231.6H115V3284.3H140 M130 3163.8H95V3258H115 M226 3111.1H70V3210.9H95 M90.4 935H62V1880.1H115 M62 1407.6H33.9V3161H70 M49.7 448.3H11.3V2284.3H33.9"/>

<!-- row labels -->
<text x="2433" y="351.1" font-size="33"><tspan x="2433" dy="0">3.A.1.1.48</tspan><tspan x="2433" dy="30.12">1.A.43.3.3</tspan><tspan x="2433" dy="30.12">9.B.126.1.2</tspan><tspan x="2433" dy="30.12">2.A.115.2.12</tspan><tspan x="2433" dy="30.12">2.A.28.2.6</tspan><tspan x="2433" dy="30.12">1.A.1.5.25</tspan><tspan x="2433" dy="30.12">2.A.1.1.42</tspan><tspan x="2433" dy="30.12">3.A.1.2.22</tspan><tspan x="2433" dy="30.12">9.A.47.2.2</tspan><tspan x="2433" dy="30.12">3.A.1.122.30</tspan><tspan x="2433" dy="30.12">3.A.1.31.1</tspan><tspan x="2433" dy="30.12">3.A.1.2.23</tspan><tspan x="2433" dy="30.12">9.B.226.1.8</tspan><tspan x="2433" dy="30.12">3.A.1.106.3</tspan><tspan x="2433" dy="30.12">2.A.69.4.6</tspan><tspan x="2433" dy="30.12">2.A.33.1.5</tspan><tspan x="2433" dy="30.12">1.A.43.3.1</tspan><tspan x="2433" dy="30.12">3.A.1.25.6</tspan><tspan x="2433" dy="30.12">3.A.1.23.1</tspan><tspan x="2433" dy="30.12">9.B.22.1.8</tspan><tspan x="2433" dy="30.12">2.C.1.4.2</tspan><tspan x="2433" dy="30.12">9.B.14.1.17</tspan><tspan x="2433" dy="30.12">3.A.1.27.3</tspan><tspan x="2433" dy="30.12">5.A.3.3.1</tspan><tspan x="2433" dy="30.12">5.A.3.1.1</tspan><tspan x="2433" dy="30.12">3.D.4.5.1</tspan><tspan x="2433" dy="30.12">5.A.3.4.1</tspan><tspan x="2433" dy="30.12">4.D.3.1.6</tspan><tspan x="2433" dy="30.12">5.A.3.1.2</tspan><tspan x="2433" dy="30.12">1.B.33.1.3</tspan><tspan x="2433" dy="30.12">2.A.1.3.51</tspan><tspan x="2433" dy="30.12">4.A.2.1.11</tspan><tspan x="2433" dy="30.12">2.A.38.1.1</tspan><tspan x="2433" dy="30.12">3.A.1.12.1</tspan><tspan x="2433" dy="30.12">3.A.1.2.3</tspan><tspan x="2433" dy="30.12">3.A.1.8.1</tspan><tspan x="2433" dy="30.12">2.A.3.2.2</tspan><tspan x="2433" dy="30.12">4.A.5.1.3</tspan><tspan x="2433" dy="30.12">1.B.3.1.3</tspan><tspan x="2433" dy="30.12">2.A.109.1.7</tspan><tspan x="2433" dy="30.12">3.A.1.1.46</tspan><tspan x="2433" dy="30.12">1.B.14.1.1</tspan><tspan x="2433" dy="30.12">3.D.11.1.1</tspan><tspan x="2433" dy="30.12">3.A.1.2.6</tspan><tspan x="2433" dy="30.12">3.A.1.7.1</tspan><tspan x="2433" dy="30.12">3.A.1.6.1</tspan><tspan x="2433" dy="30.12">3.A.1.3.26</tspan><tspan x="2433" dy="30.12">1.A.23.1.3</tspan><tspan x="2433" dy="30.12">3.A.1.2.25</tspan><tspan x="2433" dy="30.12">2.A.6.2.2</tspan><tspan x="2433" dy="30.12">3.A.1.11.9</tspan><tspan x="2433" dy="30.12">3.A.1.11.2</tspan><tspan x="2433" dy="30.12">3.A.1.5.21</tspan><tspan x="2433" dy="30.12">3.D.6.1.4</tspan><tspan x="2433" dy="30.12">2.A.6.2.13</tspan><tspan x="2433" dy="30.12">3.A.1.19.4</tspan><tspan x="2433" dy="30.12">3.A.1.14.2</tspan><tspan x="2433" dy="30.12">4.A.6.1.5</tspan><tspan x="2433" dy="30.12">3.A.1.3.3</tspan><tspan x="2433" dy="30.12">3.A.1.24.1</tspan><tspan x="2433" dy="30.12">3.A.1.2.4</tspan><tspan x="2433" dy="30.12">3.A.1.3.29</tspan><tspan x="2433" dy="30.12">1.B.23.1.22</tspan><tspan x="2433" dy="30.12">3.A.3.32.7</tspan><tspan x="2433" dy="30.12">3.A.1.14.3</tspan><tspan x="2433" dy="30.12">3.A.1.1.1</tspan><tspan x="2433" dy="30.12">3.A.1.3.4</tspan><tspan x="2433" dy="30.12">3.D.1.9.2</tspan><tspan x="2433" dy="30.12">5.A.3.4.2</tspan><tspan x="2433" dy="30.12">2.A.81.1.5</tspan><tspan x="2433" dy="30.12">1.B.55.3.1</tspan><tspan x="2433" dy="30.12">1.B.22.1.3</tspan><tspan x="2433" dy="30.12">3.A.5.1.1</tspan><tspan x="2433" dy="30.12">2.A.6.2.1</tspan><tspan x="2433" dy="30.12">9.A.69.1.1</tspan><tspan x="2433" dy="30.12">2.A.6.2.12</tspan><tspan x="2433" dy="30.12">3.A.1.2.2</tspan><tspan x="2433" dy="30.12">3.A.1.5.3</tspan><tspan x="2433" dy="30.12">3.A.1.129.1</tspan><tspan x="2433" dy="30.12">3.A.1.5.41</tspan><tspan x="2433" dy="30.12">2.A.17.1.4</tspan><tspan x="2433" dy="30.12">2.A.1.1.1</tspan><tspan x="2433" dy="30.12">2.A.64.1.1</tspan><tspan x="2433" dy="30.12">2.A.6.4.1</tspan><tspan x="2433" dy="30.12">9.A.8.1.1</tspan><tspan x="2433" dy="30.12">2.A.114.1.1</tspan><tspan x="2433" dy="30.12">3.A.1.4.1</tspan><tspan x="2433" dy="30.12">1.B.14.7.1</tspan><tspan x="2433" dy="30.12">3.A.1.152.9</tspan><tspan x="2433" dy="30.12">3.A.2.1.1</tspan><tspan x="2433" dy="30.12">3.D.1.1.1</tspan><tspan x="2433" dy="30.12">1.B.42.1.2</tspan><tspan x="2433" dy="30.12">2.A.21.3.19</tspan><tspan x="2433" dy="30.12">8.A.42.1.6</tspan><tspan x="2433" dy="30.12">2.A.1.33.2</tspan><tspan x="2433" dy="30.12">2.A.7.3.57</tspan><tspan x="2433" dy="30.12">2.A.1.21.1</tspan><tspan x="2433" dy="30.12">3.A.10.1.10</tspan><tspan x="2433" dy="30.12">9.B.154.1.1</tspan><tspan x="2433" dy="30.12">2.A.35.1.8</tspan></text>

<!-- column labels -->
<g font-size="33">
<text transform="translate(277.1,3349) rotate(90)">SRR12289958</text>
<text transform="translate(398.8,3349) rotate(90)">SRR12289968</text>
<text transform="translate(520.5,3349) rotate(90)">SRR12289978</text>
<text transform="translate(642.2,3349) rotate(90)">SRR12289981</text>
<text transform="translate(763.9,3349) rotate(90)">SRR12289941</text>
<text transform="translate(885.7,3349) rotate(90)">SRR12289972</text>
<text transform="translate(1007.4,3349) rotate(90)">SRR12289955</text>
<text transform="translate(1129.1,3349) rotate(90)">SRR12289993</text>
<text transform="translate(1250.8,3349) rotate(90)">SRR12289922</text>
<text transform="translate(1372.5,3349) rotate(90)">SRR12289951</text>
<text transform="translate(1494.3,3349) rotate(90)">SRR12289977</text>
<text transform="translate(1616,3349) rotate(90)">SRR12289933</text>
<text transform="translate(1737.7,3349) rotate(90)">SRR12289964</text>
<text transform="translate(1859.4,3349) rotate(90)">SRR12289929</text>
<text transform="translate(1981.1,3349) rotate(90)">SRR12289985</text>
<text transform="translate(2102.8,3349) rotate(90)">SRR12289979</text>
<text transform="translate(2224.6,3349) rotate(90)">SRR12289949</text>
<text transform="translate(2346.3,3349) rotate(90)">SRR12289995</text>
</g>

<!-- color legend -->
<g>
<rect x="2905" y="276.5" width="42" height="61" class="k19"/>
<rect x="2905" y="336.9" width="42" height="30.8" class="k17"/>
<rect x="2905" y="367.1" width="42" height="30.8" class="k16"/>
<rect x="2905" y="397.3" width="42" height="30.8" class="k15"/>
<rect x="2905" y="427.4" width="42" height="30.8" class="k14"/>
<rect x="2905" y="457.6" width="42" height="30.8" class="k13"/>
<rect x="2905" y="487.8" width="42" height="30.8" class="k12"/>
<rect x="2905" y="518" width="42" height="30.8" class="k11"/>
<rect x="2905" y="548.1" width="42" height="30.8" class="k10"/>
<rect x="2905" y="578.3" width="42" height="30.8" class="k9"/>
<rect x="2905" y="608.5" width="42" height="30.8" class="k8"/>
<rect x="2905" y="638.6" width="42" height="30.8" class="k7"/>
<rect x="2905" y="668.8" width="42" height="30.8" class="k6"/>
<rect x="2905" y="699" width="42" height="30.8" class="k5"/>
<rect x="2905" y="729.2" width="42" height="30.8" class="k4"/>
<rect x="2905" y="759.3" width="42" height="30.8" class="k3"/>
<rect x="2905" y="789.5" width="42" height="30.8" class="k2"/>
<rect x="2905" y="819.7" width="42" height="30.8" class="k1"/>
<rect x="2905" y="849.9" width="42" height="28" class="k0"/>
</g>
<g font-size="33">
<text x="2963" y="288">1</text>
<text x="2963" y="408">0.8</text>
<text x="2963" y="527.5">0.6</text>
<text x="2963" y="647">0.4</text>
<text x="2963" y="767">0.2</text>
<text x="2963" y="886.5">0</text>
</g>

<!-- annotation legend -->
<text x="3018" y="300" font-size="33" font-weight="bold">Post_Treatment_Fibre_Intake</text>
<rect x="3017" y="312.5" width="48" height="49" fill="#0073C2" stroke="#000" stroke-width="3"/>
<rect x="3017" y="361.5" width="48" height="49" fill="#EFC000" stroke="#000" stroke-width="3"/>
<text x="3076" y="349" font-size="33">high</text>
<text x="3076" y="397" font-size="33">low</text>
</svg>
</body>
</html>
